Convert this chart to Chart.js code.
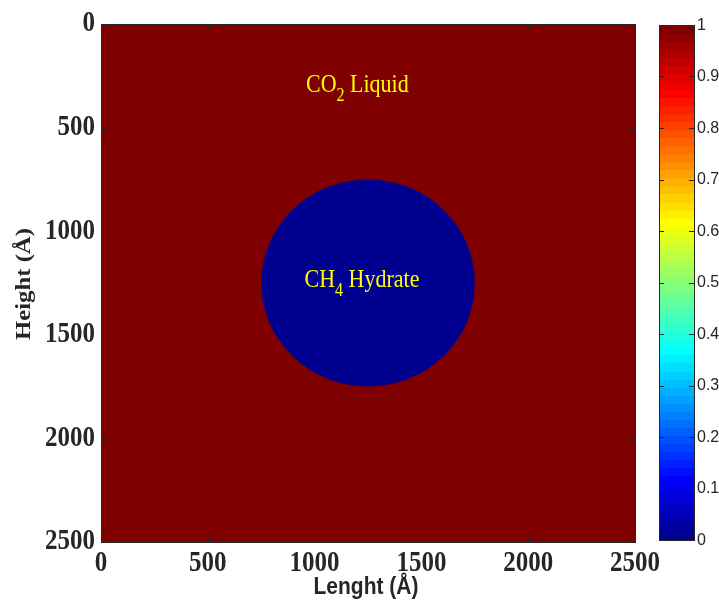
<!DOCTYPE html>
<html>
<head>
<meta charset="utf-8">
<script src="https://cdn.jsdelivr.net/npm/chart.js@4.4.1/dist/chart.umd.min.js"></script>
<style>
  html, body { margin: 0; padding: 0; background: #ffffff; }
  #wrap { position: relative; width: 719px; height: 602px; }
  #wrap canvas { position: absolute; left: 0; top: 0; }
</style>
</head>
<body>
<div id="wrap">
  <canvas id="field" width="719" height="602"></canvas>
  <canvas id="cbar" width="719" height="602"></canvas>
</div>
<script>
// Simulation domain (Å) and phase-field values
const domainX = [0, 2500];
const domainY = [0, 2500];
const liquidPhase = 1;      // CO2 liquid fills the box
const hydratePhase = 0;     // CH4 hydrate seed
const hydrateCenter = [1250, 1250];
const hydrateRadius = 500;

// Tick labels
const axisTicks = [0, 500, 1000, 1500, 2000, 2500];
const colorbarTicks = [0, 0.1, 0.2, 0.3, 0.4, 0.5, 0.6, 0.7, 0.8, 0.9, 1];
const colorbarRange = [0, 1];
const colorbarLevels = 64;

// Axis titles
const xTitle = 'Lenght (Å)';
const yTitle = 'Height (Å)';

// Region labels: position (x, baseline y) and [main, subscript, rest]
const regionLabels = [
  { x: 1200, y: 330, parts: ['CO', '2', ' Liquid'] },
  { x: 1222, y: 1268, parts: ['CH', '4', ' Hydrate'] }
];

const INK = '#262626';
const SERIF = "'Times New Roman', 'Liberation Serif', serif";
const SANS = "Arial, 'Liberation Sans', sans-serif";
const STRETCH = 1.15;   // glyphs are printed slightly tall

// MATLAB-style jet colormap with a fixed number of levels
function jetRGB(v) {
  let i = Math.floor(v * colorbarLevels) + 1;
  if (i > colorbarLevels) i = colorbarLevels;
  if (i < 1) i = 1;
  const q = colorbarLevels / 4;
  const c = t => Math.max(0, Math.min(1, t));
  const r = c(Math.min((i - 1.5 * q) / q, (4.5 * q - i) / q));
  const g = c(Math.min((i - 0.5 * q) / q, (3.5 * q - i) / q));
  const b = c(Math.min((i + 0.5 * q) / q, (2.5 * q - i) / q));
  return `rgb(${Math.round(r * 255)},${Math.round(g * 255)},${Math.round(b * 255)})`;
}

// text drawn with a vertical stretch around its anchor
function tallText(ctx, text, x, y, font, align, baseline, stretch, rotated) {
  ctx.save();
  ctx.translate(x, y);
  if (rotated) { ctx.rotate(-Math.PI / 2); ctx.scale(stretch, 1); }
  else { ctx.scale(1, stretch); }
  ctx.font = font;
  ctx.textAlign = align;
  ctx.textBaseline = baseline;
  ctx.fillText(text, 0, 0);
  ctx.restore();
}

function drawInwardTicks(ctx, area, xs, ys, len) {
  ctx.save();
  ctx.strokeStyle = INK;
  ctx.lineWidth = 1;
  ctx.beginPath();
  xs.forEach(px => {
    const x = Math.round(px) + 0.5;
    ctx.moveTo(x, area.bottom); ctx.lineTo(x, area.bottom - len);
    ctx.moveTo(x, area.top); ctx.lineTo(x, area.top + len);
  });
  ys.forEach(py => {
    const y = Math.round(py) + 0.5;
    ctx.moveTo(area.left, y); ctx.lineTo(area.left + len, y);
    ctx.moveTo(area.right, y); ctx.lineTo(area.right - len, y);
  });
  ctx.stroke();
  ctx.strokeRect(Math.round(area.left) + 0.5, Math.round(area.top) + 0.5,
                 Math.round(area.right - area.left), Math.round(area.bottom - area.top));
  ctx.restore();
}

const phaseFieldPlugin = {
  id: 'phaseField',
  beforeDatasetsDraw(chart) {
    const { ctx, scales: { x, y } } = chart;
    ctx.save();
    // liquid background over the whole domain
    const x0 = x.getPixelForValue(domainX[0]), x1 = x.getPixelForValue(domainX[1]);
    const y0 = y.getPixelForValue(domainY[0]), y1 = y.getPixelForValue(domainY[1]);
    ctx.fillStyle = jetRGB(liquidPhase);
    ctx.fillRect(x0, y0, x1 - x0, y1 - y0);
    // hydrate disc
    const cx = x.getPixelForValue(hydrateCenter[0]);
    const cy = y.getPixelForValue(hydrateCenter[1]);
    const rx = Math.abs(x.getPixelForValue(hydrateCenter[0] + hydrateRadius) - cx);
    const ry = Math.abs(y.getPixelForValue(hydrateCenter[1] + hydrateRadius) - cy);
    ctx.fillStyle = jetRGB(hydratePhase);
    ctx.beginPath();
    ctx.ellipse(cx, cy, rx, ry, 0, 0, Math.PI * 2);
    ctx.fill();
    // region labels with subscripts
    ctx.fillStyle = '#ffff00';
    const mainFont = `22px ${SERIF}`, subFont = `16px ${SERIF}`;
    regionLabels.forEach(l => {
      ctx.font = mainFont;
      const w0 = ctx.measureText(l.parts[0]).width;
      const w2 = ctx.measureText(l.parts[2]).width;
      ctx.font = subFont;
      const w1 = ctx.measureText(l.parts[1]).width;
      let px = x.getPixelForValue(l.x) - (w0 + w1 + w2) / 2;
      const py = y.getPixelForValue(l.y);
      tallText(ctx, l.parts[0], px, py, mainFont, 'left', 'alphabetic', STRETCH); px += w0;
      tallText(ctx, l.parts[1], px, py + 9, subFont, 'left', 'alphabetic', STRETCH); px += w1;
      tallText(ctx, l.parts[2], px, py, mainFont, 'left', 'alphabetic', STRETCH);
    });
    ctx.restore();
  },
  afterDraw(chart) {
    const { ctx, chartArea, scales: { x, y } } = chart;
    drawInwardTicks(ctx, chartArea,
      axisTicks.map(v => x.getPixelForValue(v)),
      axisTicks.map(v => y.getPixelForValue(v)), 6);
    ctx.save();
    ctx.fillStyle = INK;
    const tickFont = `bold 25px ${SERIF}`;
    axisTicks.forEach(v => {
      tallText(ctx, String(v), x.getPixelForValue(v), chartArea.bottom + 22,
               tickFont, 'center', 'middle', STRETCH);
      tallText(ctx, String(v), chartArea.left - 6, y.getPixelForValue(v),
               tickFont, 'right', 'middle', STRETCH);
    });
    tallText(ctx, xTitle, (chartArea.left + chartArea.right) / 2 - 2, chartArea.bottom + 45,
             `bold 21px ${SANS}`, 'center', 'middle', STRETCH);
    tallText(ctx, yTitle, 24, (chartArea.top + chartArea.bottom) / 2 + 1,
             `bold 21.5px ${SERIF}`, 'center', 'middle', STRETCH, true);
    ctx.restore();
  }
};

new Chart(document.getElementById('field'), {
  type: 'scatter',
  data: { datasets: [] },
  options: {
    responsive: false,
    animation: false,
    events: [],
    layout: { padding: { left: 0, top: 24, right: 84, bottom: 0 } },
    plugins: { legend: { display: false }, tooltip: { enabled: false } },
    scales: {
      x: {
        type: 'linear', position: 'bottom',
        min: domainX[0], max: domainX[1],
        afterBuildTicks: s => { s.ticks = axisTicks.map(v => ({ value: v })); },
        afterFit: s => { s.height = 60; },
        grid: { display: false, drawTicks: false },
        border: { display: false },
        ticks: { display: false }
      },
      y: {
        type: 'linear', position: 'left', reverse: true,
        min: domainY[0], max: domainY[1],
        afterBuildTicks: s => { s.ticks = axisTicks.map(v => ({ value: v })); },
        afterFit: s => { s.width = 101; },
        grid: { display: false, drawTicks: false },
        border: { display: false },
        ticks: { display: false }
      }
    }
  },
  plugins: [phaseFieldPlugin]
});

const colorbarPlugin = {
  id: 'colorbar',
  beforeDatasetsDraw(chart) {
    const { ctx, chartArea, scales: { y } } = chart;
    ctx.save();
    const span = colorbarRange[1] - colorbarRange[0];
    for (let k = 0; k < colorbarLevels; k++) {
      const lo = colorbarRange[0] + span * k / colorbarLevels;
      const hi = colorbarRange[0] + span * (k + 1) / colorbarLevels;
      const yTop = y.getPixelForValue(hi), yBot = y.getPixelForValue(lo);
      ctx.fillStyle = jetRGB((lo + hi) / 2);
      ctx.fillRect(chartArea.left, Math.floor(yTop), chartArea.right - chartArea.left,
                   Math.ceil(yBot) - Math.floor(yTop));
    }
    ctx.restore();
  },
  afterDraw(chart) {
    const { ctx, chartArea, scales: { y } } = chart;
    drawInwardTicks(ctx, chartArea, [], colorbarTicks.map(v => y.getPixelForValue(v)), 5);
    ctx.save();
    ctx.fillStyle = INK;
    colorbarTicks.forEach(v => {
      tallText(ctx, String(v), chartArea.right + 3, y.getPixelForValue(v),
               `16px ${SANS}`, 'left', 'middle', 1.05);
    });
    ctx.restore();
  }
};

new Chart(document.getElementById('cbar'), {
  type: 'bar',
  data: { labels: ['phase'], datasets: [] },
  options: {
    responsive: false,
    animation: false,
    events: [],
    layout: { padding: { left: 659, top: 25, right: 0, bottom: 62 } },
    plugins: { legend: { display: false }, tooltip: { enabled: false } },
    scales: {
      x: { display: false },
      y: {
        type: 'linear', position: 'right',
        min: colorbarRange[0], max: colorbarRange[1],
        afterBuildTicks: s => { s.ticks = colorbarTicks.map(v => ({ value: v })); },
        afterFit: s => { s.width = 25; },
        grid: { display: false, drawTicks: false },
        border: { display: false },
        ticks: { display: false }
      }
    }
  },
  plugins: [colorbarPlugin]
});
</script>
</body>
</html>
